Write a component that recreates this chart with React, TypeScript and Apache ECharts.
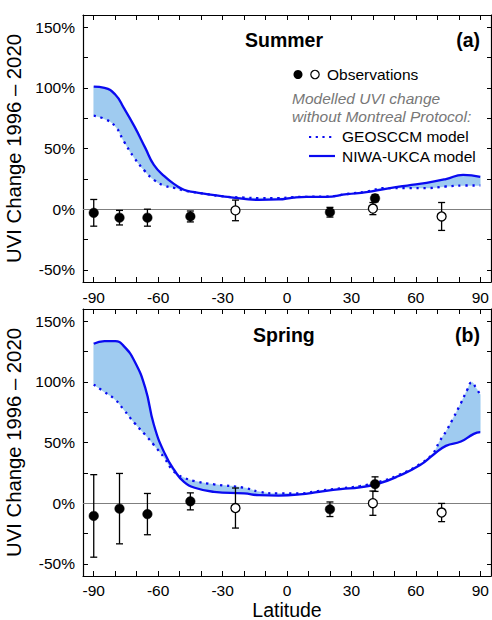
import React, { useEffect, useRef } from "react";
import * as echarts from "echarts";

const FONT = "'Liberation Sans', Arial, Helvetica, sans-serif";
const BLUE = "#0a0af0";
const FILL = "#9fcbf0";
const SMOOTH = 0.5;

// ---- Panel (a) Summer ----
const summerNiwaLat = [-90, -85, -80, -76, -71, -66, -62, -57, -52, -48, -43, -38, -29, -20, -13, -4, 3, 9, 18, 28, 37, 46, 56, 65, 74, 82, 90];
const summerNiwaVal = [101, 100, 94.5, 83.5, 68, 50.5, 36.5, 27, 20, 16, 14, 12.6, 10.4, 8.5, 7.7, 8, 9.6, 10.2, 10.2, 12.4, 14, 16.8, 19.5, 21.7, 24.8, 28.3, 26.7];
const summerGeosLat = [-90, -85, -80, -76, -71, -66, -62, -57, -52, -48, -38, -29, -20, -13, -4, 3, 9, 18, 28, 37, 46, 56, 65, 74, 82, 90];
const summerGeosVal = [77, 74.4, 68.3, 56, 42, 31, 24.2, 19.3, 17.4, 15.4, 12.6, 10.4, 9.6, 9.1, 9.1, 9.9, 10.2, 10.4, 12.5, 14.5, 17.4, 17.4, 17.4, 18.7, 19.5, 19.5];
const summerObsFilledLat = [-90, -78, -65, -45, 20, 41];
const summerObsFilledVal = [-3, -7, -7, -6, -2.5, 9];
const summerObsFilledErr = [11, 6, 7, 4.5, 4, 3];
const summerObsOpenLat = [-24, 40, 72];
const summerObsOpenVal = [-1, 0.5, -6];
const summerObsOpenErr = [8.5, 5, 11.5];

// ---- Panel (b) Spring ----
const springNiwaLat = [-90, -85, -80, -76, -71, -66, -62, -57, -52, -48, -43, -34, -20, -13, -4, 6, 15, 25, 34, 43, 52, 62, 68, 74, 81, 87, 90];
const springNiwaVal = [131.4, 133.6, 133.6, 129.4, 117, 95, 64.6, 41.1, 25.9, 17.6, 12.7, 9.4, 8, 6.6, 6.3, 7.2, 9.4, 11.6, 13, 16.3, 22.4, 31.5, 39.7, 47.2, 50.8, 57.1, 58.5];
const springGeosLat = [-90, -85, -80, -76, -71, -66, -62, -57, -54, -51, -48, -43, -34, -20, -13, -4, 6, 15, 25, 34, 43, 52, 62, 68, 71, 74, 77, 81, 84, 86, 88, 90];
const springGeosVal = [97.7, 91.6, 85.3, 77, 66, 56.3, 48, 37, 28.7, 23.8, 21, 18.2, 15.5, 12.7, 9.4, 8, 8, 10.2, 12.2, 14.1, 17.6, 23.2, 32.3, 41.1, 50.8, 59, 68.7, 82.5, 93.6, 99.6, 95, 89.4];
const springObsFilledLat = [-90, -78, -65, -45, 20, 41];
const springObsFilledVal = [-10.5, -4.5, -9, 1.5, -5, 15.7];
const springObsFilledErr = [34, 29, 17, 7, 6, 6];
const springObsOpenLat = [-24, 40, 72];
const springObsOpenVal = [-4, 0, -7.7];
const springObsOpenErr = [16.5, 10, 7.5];

// ---- Axes ticks ----
const xLabelValues = [-90, -60, -30, 0, 30, 60, 90];
const xTickValues = [-90, -80, -70, -60, -50, -40, -30, -20, -10, 0, 10, 20, 30, 40, 50, 60, 70, 80, 90];
const yLabelValues = [-50, 0, 50, 100, 150];
const yTickValues = [-50, -25, 0, 25, 50, 75, 100, 125, 150];

const zip2 = (a: number[], b: number[]) => a.map((v, i) => [v, b[i]]);
const zip3 = (a: number[], b: number[], c: number[]) => a.map((v, i) => [v, b[i], c[i]]);

const GRID_LEFT = 83;
const GRID_W = 408;
const GRID_H = 267;
const GRID_TOPS = [15, 309];

function buildAxes(i: number) {
  const tickStyle = { show: true, inside: true, length: 5, lineStyle: { color: "#000", width: 1 } };
  const axisLine = { show: true, onZero: false, lineStyle: { color: "#000", width: 1.2 } };
  const label = { fontSize: 15.5, color: "#000", fontFamily: FONT };
  const xBottom: any = {
    type: "value", gridIndex: i, position: "bottom", min: -95, max: 95,
    axisLine, axisTick: { ...tickStyle, customValues: xTickValues },
    axisLabel: { ...label, margin: i === 1 ? 7 : 8, lineHeight: 15.5, customValues: xLabelValues },
    splitLine: { show: false },
  };
  if (i === 1) {
    xBottom.name = "Latitude";
    xBottom.nameLocation = "middle";
    xBottom.nameGap = 24.5;
    xBottom.nameMoveOverlap = false;
    xBottom.nameTextStyle = { fontSize: 19.5, lineHeight: 19, color: "#000", fontFamily: FONT };
  }
  const xTop = {
    type: "value", gridIndex: i, position: "top", min: -95, max: 95,
    axisLine, axisTick: { ...tickStyle, customValues: xTickValues },
    axisLabel: { show: false }, splitLine: { show: false },
  };
  const yLeft = {
    type: "value", gridIndex: i, position: "left", min: -60, max: 160,
    axisLine, axisTick: { ...tickStyle, customValues: yTickValues },
    axisLabel: { ...label, margin: 8, customValues: yLabelValues, formatter: "{value}%" },
    splitLine: { show: false },
    name: "UVI Change 1996 \u2013 2020", nameLocation: "middle", nameGap: 43,
    nameTextStyle: { fontSize: 20.3, color: "#000", fontFamily: FONT },
  };
  const yRight = {
    type: "value", gridIndex: i, position: "right", min: -60, max: 160,
    axisLine, axisTick: { ...tickStyle, length: 4, customValues: yTickValues },
    axisLabel: { show: false }, splitLine: { show: false },
  };
  return { x: [xBottom, xTop], y: [yLeft, yRight] };
}

// Same smoothing as the ECharts line series (pixel space), sampled into points
function smoothSample(pts: number[][], smooth: number, steps = 10): number[][] {
  const out: number[][] = [pts[0]];
  const n = pts.length;
  let cpx0 = pts[0][0], cpy0 = pts[0][1];
  const mn = Math.min, mx = Math.max;
  for (let i = 1; i < n; i++) {
    const x = pts[i][0], y = pts[i][1];
    const prevX = pts[i - 1][0], prevY = pts[i - 1][1];
    let cpx1: number, cpy1: number, nextCpx0: number, nextCpy0: number;
    if (i === n - 1) {
      cpx1 = x; cpy1 = y; nextCpx0 = x; nextCpy0 = y;
    } else {
      const nextX = pts[i + 1][0], nextY = pts[i + 1][1];
      let vx = nextX - prevX, vy = nextY - prevY;
      const lenPrev = Math.hypot(x - prevX, y - prevY);
      const lenNext = Math.hypot(nextX - x, nextY - y);
      const r = lenNext / (lenNext + lenPrev);
      nextCpx0 = x + vx * smooth * r;
      nextCpy0 = y + vy * smooth * r;
      nextCpx0 = mn(nextCpx0, mx(nextX, x));
      nextCpy0 = mn(nextCpy0, mx(nextY, y));
      nextCpx0 = mx(nextCpx0, mn(nextX, x));
      nextCpy0 = mx(nextCpy0, mn(nextY, y));
      vx = nextCpx0 - x; vy = nextCpy0 - y;
      cpx1 = x - vx * lenPrev / lenNext;
      cpy1 = y - vy * lenPrev / lenNext;
      cpx1 = mn(cpx1, mx(prevX, x));
      cpy1 = mn(cpy1, mx(prevY, y));
      cpx1 = mx(cpx1, mn(prevX, x));
      cpy1 = mx(cpy1, mn(prevY, y));
      vx = x - cpx1; vy = y - cpy1;
      nextCpx0 = x + vx * lenNext / lenPrev;
      nextCpy0 = y + vy * lenNext / lenPrev;
    }
    for (let s = 1; s <= steps; s++) {
      const t = s / steps, u = 1 - t;
      const bx = u * u * u * prevX + 3 * u * u * t * cpx0 + 3 * u * t * t * cpx1 + t * t * t * x;
      const by = u * u * u * prevY + 3 * u * u * t * cpy0 + 3 * u * t * t * cpy1 + t * t * t * y;
      out.push([bx, by]);
    }
    cpx0 = nextCpx0; cpy0 = nextCpy0;
  }
  return out;
}

const renderErr = (_params: any, api: any) => {
  const x = api.value(0), y = api.value(1), e = api.value(2);
  const p1 = api.coord([x, y + e]);
  const p2 = api.coord([x, y - e]);
  const w = 3.5;
  const style = { stroke: "#000", lineWidth: 1.3 };
  return {
    type: "group",
    children: [
      { type: "line", shape: { x1: p1[0], y1: p1[1], x2: p2[0], y2: p2[1] }, style },
      { type: "line", shape: { x1: p1[0] - w, y1: p1[1], x2: p1[0] + w, y2: p1[1] }, style },
      { type: "line", shape: { x1: p2[0] - w, y1: p2[1], x2: p2[0] + w, y2: p2[1] }, style },
    ],
  };
};

const makeBand = (a: number[][], b: number[][]) => (_params: any, api: any) => {
  const pa = smoothSample(a.map((p) => api.coord(p)), SMOOTH);
  const pb = smoothSample(b.map((p) => api.coord(p)), SMOOTH).reverse();
  return { type: "polygon", shape: { points: pa.concat(pb) }, style: { fill: FILL, stroke: FILL, lineWidth: 0.5 } };
};

const DOT_STYLE = { color: BLUE, width: 2.3, type: [2.3, 4.7], cap: "butt" };

function buildSeries(i: number, niwa: number[][], geos: number[][], filled: number[][], open: number[][]) {
  const ax = { xAxisIndex: i * 2, yAxisIndex: i * 2 };
  return [
    { type: "custom", ...ax, renderItem: makeBand(niwa, geos), data: [[0, 0]], encode: { x: 0, y: 1 }, z: 1, silent: true },
    {
      type: "line", ...ax, name: "NIWA-UKCA model", data: niwa, symbol: "none", smooth: SMOOTH, z: 3,
      lineStyle: { color: BLUE, width: 2.3 },
      markLine: {
        silent: true, symbol: ["none", "none"], label: { show: false },
        lineStyle: { color: "#7f7f7f", width: 1, type: "solid" },
        data: [{ yAxis: 0 }], z: 2,
      },
    },
    {
      type: "line", ...ax, name: "GEOSCCM model", data: geos, symbol: "none", smooth: SMOOTH, z: 3,
      lineStyle: DOT_STYLE,
    },
    { type: "custom", ...ax, renderItem: renderErr, data: filled.concat(open), encode: { x: 0, y: 1 }, z: 4 },
    {
      type: "scatter", ...ax, data: filled.map((d) => [d[0], d[1]]), symbol: "circle", symbolSize: 9.5, z: 5,
      itemStyle: { color: "#000", borderColor: "#000", borderWidth: 0.5, opacity: 1 },
    },
    {
      type: "scatter", ...ax, data: open.map((d) => [d[0], d[1]]), symbol: "circle", symbolSize: 9, z: 5,
      itemStyle: { color: "#fff", borderColor: "#000", borderWidth: 1.3, opacity: 1 },
    },
  ];
}

export default function App() {
  const ref = useRef<HTMLDivElement>(null);
  useEffect(() => {
    if (!ref.current) return;
    const chart = echarts.init(ref.current, undefined, { renderer: "svg" });
    const a0 = buildAxes(0);
    const a1 = buildAxes(1);
    const txt = (x: number, y: number, text: string, extra: any = {}) => ({
      type: "text", x, y,
      style: { text, fontSize: 15.5, fontFamily: FONT, fill: "#000", verticalAlign: "middle", align: "left", ...extra },
    });
    const option: any = {
      animation: false,
      backgroundColor: "#fff",
      grid: GRID_TOPS.map((t) => ({ left: GRID_LEFT, top: t, width: GRID_W, height: GRID_H, containLabel: false, outerBoundsMode: "none" })),
      xAxis: [...a0.x, ...a1.x],
      yAxis: [...a0.y, ...a1.y],
      series: [
        ...buildSeries(0, zip2(summerNiwaLat, summerNiwaVal), zip2(summerGeosLat, summerGeosVal),
          zip3(summerObsFilledLat, summerObsFilledVal, summerObsFilledErr), zip3(summerObsOpenLat, summerObsOpenVal, summerObsOpenErr)),
        ...buildSeries(1, zip2(springNiwaLat, springNiwaVal), zip2(springGeosLat, springGeosVal),
          zip3(springObsFilledLat, springObsFilledVal, springObsFilledErr), zip3(springObsOpenLat, springObsOpenVal, springObsOpenErr)),
      ],
      graphic: [
        txt(245, 40, "Summer", { fontSize: 19.5, fontWeight: "bold" }),
        txt(480, 40, "(a)", { fontSize: 19.5, fontWeight: "bold", align: "right" }),
        txt(253, 335, "Spring", { fontSize: 19.5, fontWeight: "bold" }),
        txt(480, 335, "(b)", { fontSize: 19.5, fontWeight: "bold", align: "right" }),
        { type: "circle", shape: { cx: 298, cy: 74.5, r: 4.5 }, style: { fill: "#000" } },
        { type: "circle", shape: { cx: 315, cy: 74.5, r: 4.2 }, style: { fill: "#fff", stroke: "#000", lineWidth: 1.2 } },
        txt(327, 74.5, "Observations"),
        txt(292, 98, "Modelled UVI change", { fontStyle: "italic", fill: "#777" }),
        txt(292, 116.5, "without Montreal Protocol:", { fontStyle: "italic", fill: "#777" }),
        { type: "line", shape: { x1: 309, y1: 137, x2: 334, y2: 137 }, style: { stroke: BLUE, lineWidth: 2.2, lineDash: [2.2, 4.5] } },
        txt(342, 136.5, "GEOSCCM model"),
        { type: "line", shape: { x1: 309, y1: 156, x2: 335, y2: 156 }, style: { stroke: BLUE, lineWidth: 2.2 } },
        txt(342, 156, "NIWA-UKCA model"),
      ],
    };
    chart.setOption(option);
    return () => chart.dispose();
  }, []);
  return <div ref={ref} style={{ position: "absolute", left: 0, top: 0, width: 492, height: 620 }} />;
}
